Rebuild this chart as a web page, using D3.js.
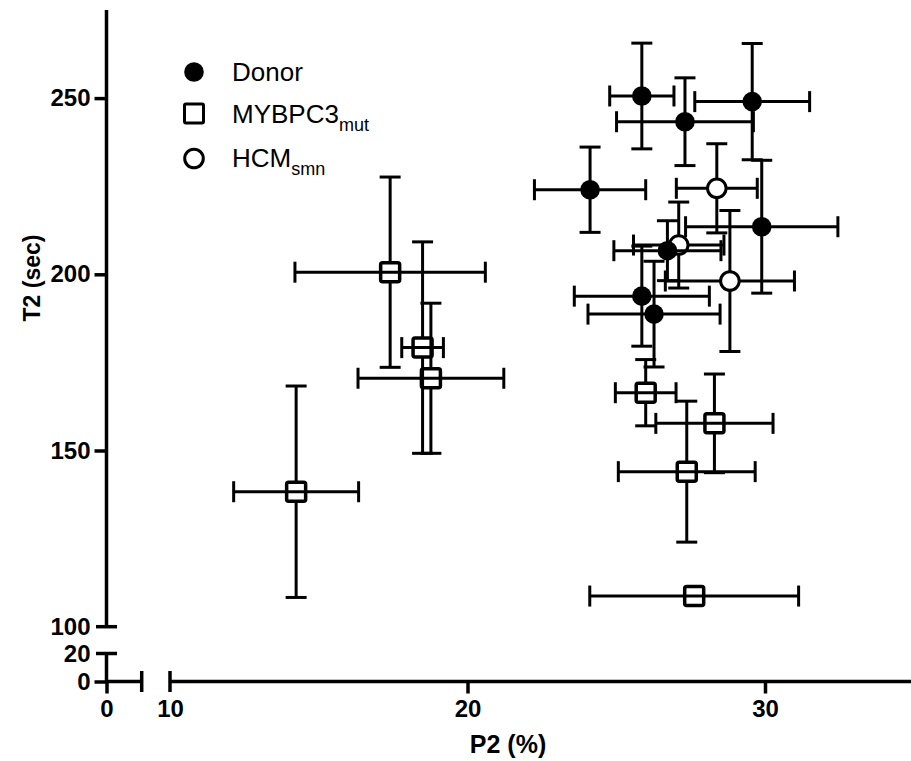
<!DOCTYPE html>
<html><head><meta charset="utf-8">
<script src="https://cdn.jsdelivr.net/npm/d3@7"></script>
<style>
html,body{margin:0;padding:0;background:#fff;}
svg{display:block;}
text{font-family:"Liberation Sans",Arial,Helvetica,sans-serif;fill:#000;}
</style></head>
<body>
<svg id="chart" width="911" height="761"></svg>
<script>
// ---- data ----
const seriesNames = ["Donor", "MYBPC3", "HCM"];
const donorX    = [25.86, 27.31, 29.57, 24.12, 29.89, 26.72, 25.86, 26.27];
const donorY    = [250.6, 243.3, 249.0, 224.0, 213.5, 206.7, 193.8, 188.7];
const donorXErr = [1.08, 2.30, 1.93, 1.87, 2.56, 1.80, 2.27, 2.22];
const donorYErr = [15.0, 12.45, 16.5, 12.1, 18.85, 8.5, 14.2, 15.0];

const mutX    = [17.40, 18.49, 18.77, 14.24, 25.99, 28.30, 27.37, 27.62];
const mutY    = [200.6, 179.2, 170.5, 138.3, 166.4, 157.7, 144.0, 108.7];
const mutXErr = [3.20, 0.70, 2.45, 2.10, 1.02, 1.97, 2.30, 3.51];
const mutYErr = [27.0, 30.0, 21.3, 30.0, 9.4, 14.0, 20.0, 0];

const hcmX    = [28.38, 27.10, 28.82];
const hcmY    = [224.4, 208.3, 198.1];
const hcmXErr = [1.36, 1.52, 2.17];
const hcmYErr = [12.65, 12.2, 20.0];

const yTicksHi = [100, 150, 200, 250];
const yTicksLo = [0, 20];
const xTicksHi = [10, 20, 30];
const xTicksLo = [0];

// ---- scales ----
const svg = d3.select("#chart");
const axisX0 = 106.5, axisY0 = 681.5;
const xHi = d3.scaleLinear().domain([10, 35]).range([170, 913.75]);
const xLo = d3.scaleLinear().domain([0, 5]).range([axisX0, 141.7]);
const yHi = d3.scaleLinear().domain([100, 275]).range([626.7, 10]);
const yLo = d3.scaleLinear().domain([0, 20]).range([axisY0, 653.5]);
const fmt = d3.format("d");

const SW = 3.5, CAP = 10.5;

// ---- axes ----
function styleAxis(g) {
  g.select(".domain").remove();
  g.selectAll(".tick line").attr("stroke", "#000").attr("stroke-width", SW);
  g.selectAll(".tick text").attr("font-size", 24).attr("font-weight", "bold")
    .attr("font-family", '"Liberation Sans",Arial,sans-serif');
}
// y upper segment
svg.append("g").attr("transform", `translate(${axisX0},0)`)
  .call(d3.axisLeft(yHi).tickValues(yTicksHi.filter(d => d !== 100)).tickFormat(fmt).tickSize(12).tickPadding(4))
  .call(styleAxis);
svg.append("g").attr("transform", `translate(${axisX0},0)`)
  .call(d3.axisLeft(yHi).tickValues([100]).tickFormat(fmt).tickSize(0).tickPadding(16))
  .call(styleAxis);
// y lower segment
svg.append("g").attr("transform", `translate(${axisX0},0)`)
  .call(d3.axisLeft(yLo).tickValues([0]).tickFormat(fmt).tickSize(12).tickPadding(4))
  .call(styleAxis);
svg.append("g").attr("transform", `translate(${axisX0},0)`)
  .call(d3.axisLeft(yLo).tickValues([20]).tickFormat(fmt).tickSize(0).tickPadding(16))
  .call(styleAxis);
// x lower segment
svg.append("g").attr("transform", `translate(0,${axisY0})`)
  .call(d3.axisBottom(xLo).tickValues(xTicksLo).tickFormat(fmt).tickSize(12).tickPadding(6))
  .call(styleAxis);
// x upper segment
svg.append("g").attr("transform", `translate(0,${axisY0})`)
  .call(d3.axisBottom(xHi).tickValues(xTicksHi.filter(d => d !== 10)).tickFormat(fmt).tickSize(12).tickPadding(6))
  .call(styleAxis);
svg.append("g").attr("transform", `translate(0,${axisY0})`)
  .call(d3.axisBottom(xHi).tickValues([10]).tickFormat(fmt).tickSize(0).tickPadding(18))
  .call(styleAxis);

// axis lines with break caps
const ax = svg.append("g").attr("stroke", "#000").attr("stroke-width", SW).attr("fill", "none");
ax.append("line").attr("x1", axisX0).attr("x2", axisX0).attr("y1", yHi(275)).attr("y2", yHi(100));
ax.append("line").attr("x1", axisX0 - CAP).attr("x2", axisX0 + CAP).attr("y1", yHi(100)).attr("y2", yHi(100));
ax.append("line").attr("x1", axisX0).attr("x2", axisX0).attr("y1", yLo(20)).attr("y2", yLo(0));
ax.append("line").attr("x1", axisX0 - CAP).attr("x2", axisX0 + CAP).attr("y1", yLo(20)).attr("y2", yLo(20));
ax.append("line").attr("x1", xLo(0)).attr("x2", xLo(5)).attr("y1", axisY0).attr("y2", axisY0);
ax.append("line").attr("x1", xLo(5)).attr("x2", xLo(5)).attr("y1", axisY0 - CAP).attr("y2", axisY0 + CAP);
ax.append("line").attr("x1", xHi(10)).attr("x2", xHi(35)).attr("y1", axisY0).attr("y2", axisY0);
ax.append("line").attr("x1", xHi(10)).attr("x2", xHi(10)).attr("y1", axisY0 - CAP).attr("y2", axisY0 + CAP);

// axis titles
svg.append("text").attr("x", 508).attr("y", 753).attr("text-anchor", "middle")
  .attr("font-size", 25).attr("font-weight", "bold").text("P2 (%)");
svg.append("text").attr("transform", "translate(40,278) rotate(-90)").attr("text-anchor", "middle")
  .attr("font-size", 23).attr("font-weight", "bold").text("T2 (sec)");

// ---- data marks ----
const mk = (xs, ys, xe, ye) => xs.map((x, i) => ({x, y: ys[i], xe: xe[i], ye: ye[i]}));
const donor = mk(donorX, donorY, donorXErr, donorYErr);
const mut = mk(mutX, mutY, mutXErr, mutYErr);
const hcm = mk(hcmX, hcmY, hcmXErr, hcmYErr);

const R = 9.8, SQ = 19;
function errorBars(g, data, vGap) {
  data.forEach(d => {
    const cx = xHi(d.x), cy = yHi(d.y);
    const x1 = xHi(d.x - d.xe), x2 = xHi(d.x + d.xe);
    g.append("line").attr("x1", x1).attr("x2", x2).attr("y1", cy).attr("y2", cy);
    g.append("line").attr("x1", x1).attr("x2", x1).attr("y1", cy - CAP).attr("y2", cy + CAP);
    g.append("line").attr("x1", x2).attr("x2", x2).attr("y1", cy - CAP).attr("y2", cy + CAP);
    if (d.ye > 0) {
      const y1 = yHi(d.y + d.ye), y2 = yHi(d.y - d.ye);
      if (y2 - y1 > 2 * vGap) {
        g.append("line").attr("x1", cx).attr("x2", cx).attr("y1", y1).attr("y2", cy - vGap);
        g.append("line").attr("x1", cx).attr("x2", cx).attr("y1", cy + vGap).attr("y2", y2);
        g.append("line").attr("x1", cx - CAP).attr("x2", cx + CAP).attr("y1", y1).attr("y2", y1);
        g.append("line").attr("x1", cx - CAP).attr("x2", cx + CAP).attr("y1", y2).attr("y2", y2);
      }
    }
  });
}
const plot = svg.append("g").attr("stroke", "#000").attr("stroke-width", 3).attr("fill", "none");

// MYBPC3 squares
const gMut = plot.append("g");
errorBars(gMut, mut, SQ / 2);
gMut.selectAll("rect").data(mut).join("rect")
  .attr("x", d => xHi(d.x) - SQ / 2).attr("y", d => yHi(d.y) - SQ / 2)
  .attr("width", SQ).attr("height", SQ).attr("rx", 2)
  .attr("fill", "none").attr("stroke", "#000").attr("stroke-width", 3.5);

// HCM open circles
const gHcm = plot.append("g");
errorBars(gHcm, hcm, 0);
gHcm.selectAll("circle").data(hcm).join("circle")
  .attr("cx", d => xHi(d.x)).attr("cy", d => yHi(d.y)).attr("r", R - 0.5)
  .attr("fill", "#fff").attr("stroke", "#000").attr("stroke-width", 3);

// Donor filled circles
const gDon = plot.append("g");
errorBars(gDon, donor, 0);
gDon.selectAll("circle").data(donor).join("circle")
  .attr("cx", d => xHi(d.x)).attr("cy", d => yHi(d.y)).attr("r", R)
  .attr("fill", "#000").attr("stroke", "none");

// ---- legend ----
const lg = svg.append("g");
const lx = 194, tx = 232;
lg.append("circle").attr("cx", lx).attr("cy", 72).attr("r", R).attr("fill", "#000");
lg.append("text").attr("x", tx).attr("y", 80.5).attr("font-size", 26).text("Donor");
lg.append("rect").attr("x", lx - 9.5).attr("y", 113.5 - 9.5).attr("width", 19).attr("height", 19).attr("rx", 1.5)
  .attr("fill", "none").attr("stroke", "#000").attr("stroke-width", 3);
const t2 = lg.append("text").attr("x", tx).attr("y", 122.5).attr("font-size", 26);
t2.append("tspan").text("MYBPC3");
t2.append("tspan").attr("font-size", 18).attr("dy", 8).text("mut");
lg.append("circle").attr("cx", lx).attr("cy", 158.5).attr("r", R - 0.5).attr("fill", "#fff")
  .attr("stroke", "#000").attr("stroke-width", 3);
const t3 = lg.append("text").attr("x", tx).attr("y", 167).attr("font-size", 26);
t3.append("tspan").text("HCM");
t3.append("tspan").attr("font-size", 18).attr("dy", 8).text("smn");
</script>
</body></html>
